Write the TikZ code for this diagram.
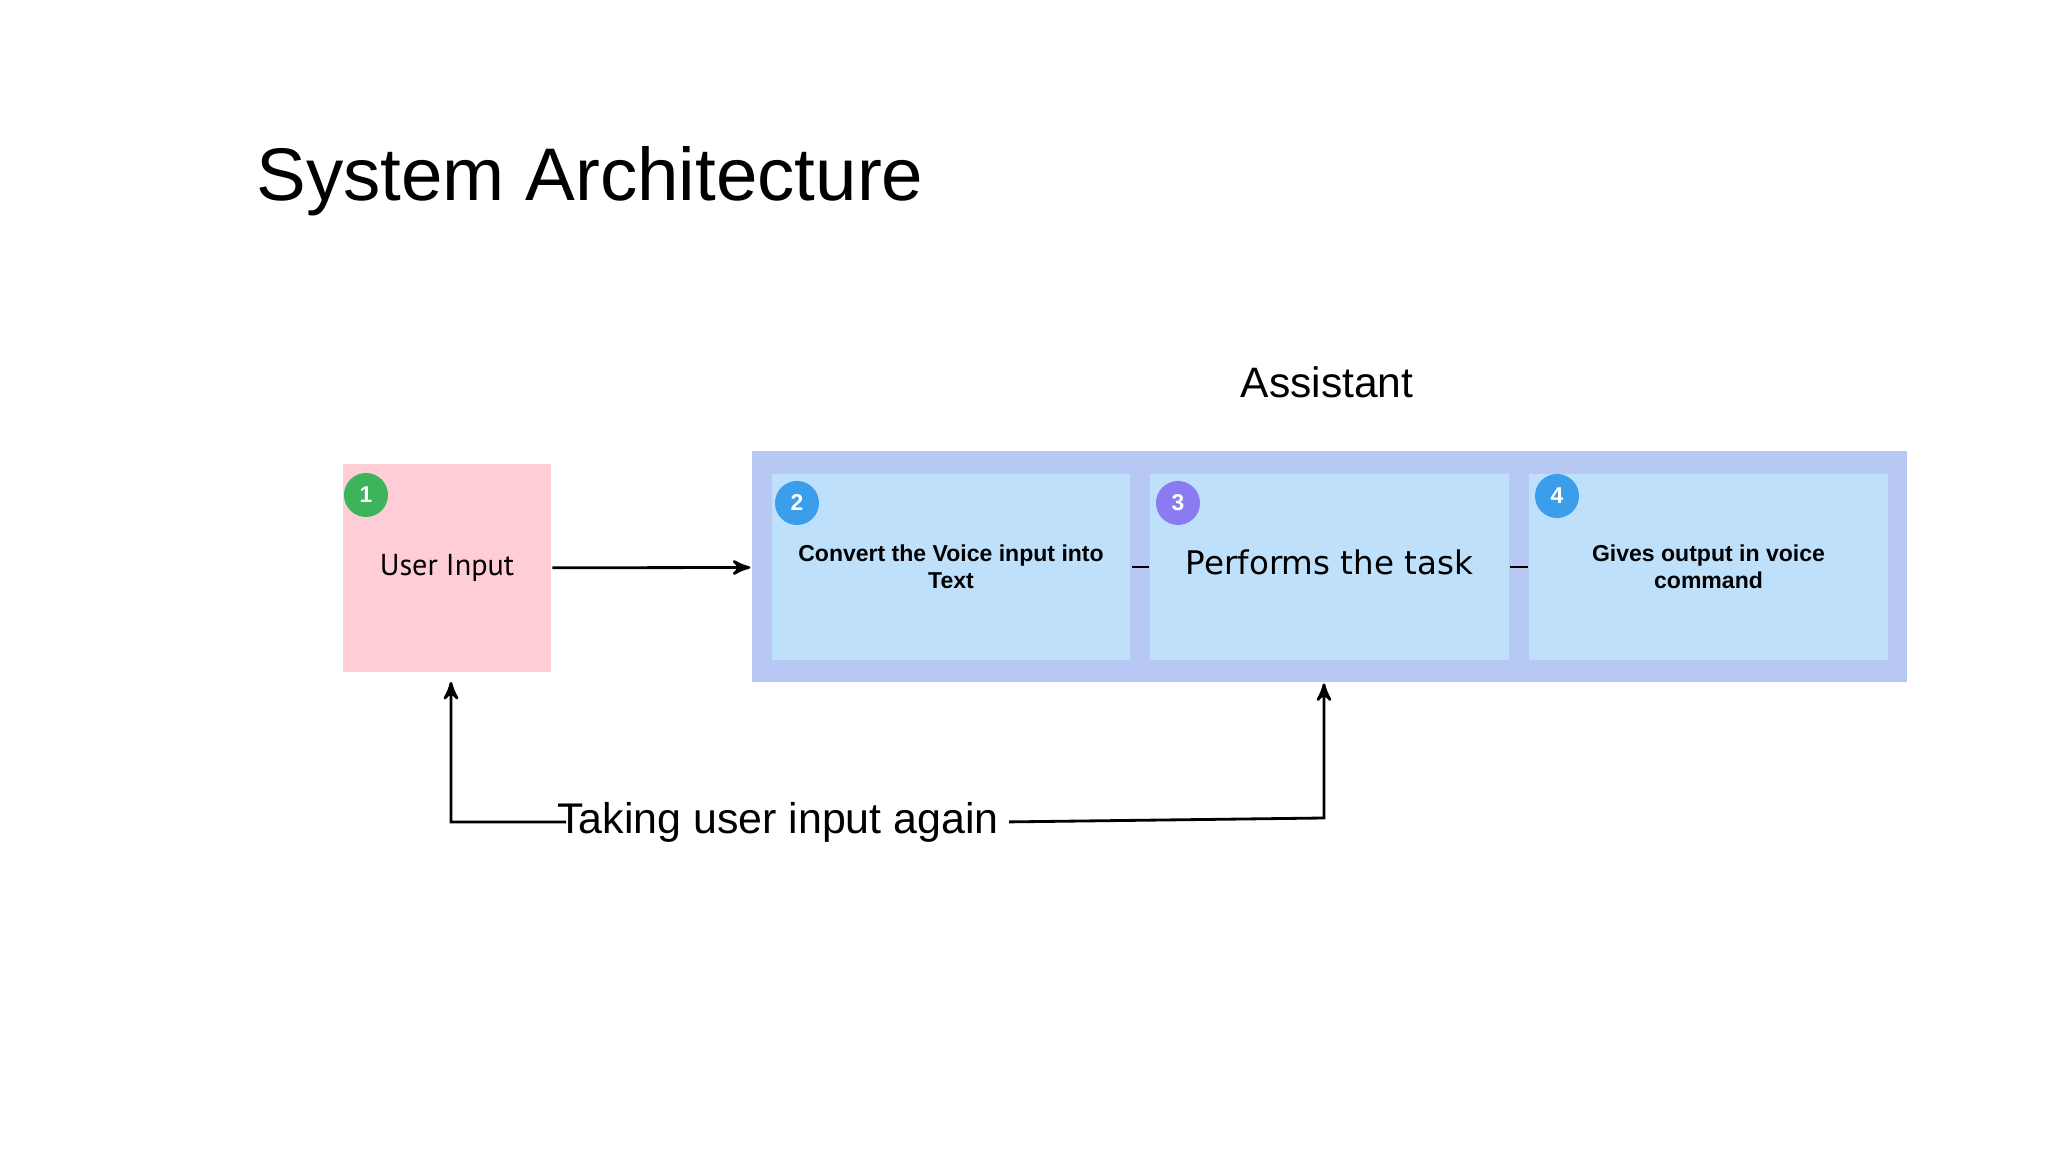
\documentclass[tikz,border=0pt]{standalone}
\usepackage{fontspec}
\setmainfont{Liberation Sans}
\newfontfamily\ptsans{PT Sans}
\newfontfamily\dejavu{DejaVu Sans}
\usetikzlibrary{arrows}

\definecolor{uipink}{HTML}{FFCDD5}
\definecolor{asstblue}{HTML}{B8C8F5}
\definecolor{stepblue}{HTML}{BEE0FB}
\definecolor{badgegreen}{HTML}{3DB45C}
\definecolor{badgeblue}{HTML}{3A9EEA}
\definecolor{badgepurple}{HTML}{8B7BF0}

\begin{document}
\begin{tikzpicture}[x=0.01cm, y=-0.01cm,
    thick,
    >=stealth',
    stepbox/.style = {
      rectangle,
      inner sep = 0pt,
      minimum width = 3.58cm,
      minimum height = 1.86cm,
      fill = stepblue,
      align = center
    },
    badge/.style = {
      circle,
      inner sep = 0pt,
      minimum size = 0.44cm,
      text = white,
      font = \fontsize{6.5}{7}\selectfont\bfseries
    },
    steptext/.style = {font = \fontsize{6.55}{7.7}\selectfont\bfseries}
  ]
  \useasboundingbox (0,0) rectangle (2048,1152);

  \node[anchor=base west, inner sep=0pt,
    font=\fontsize{21.2}{25}\selectfont] (title) at (255,201) {System Architecture};
  \node[anchor=base, inner sep=0pt,
    font=\fontsize{12.1}{14}\selectfont] (asstlabel) at (1327,398) {Assistant};

  % user side
  \node[fill=uipink, inner sep=0pt, minimum width=2.08cm, minimum height=2.07cm,
    font=\ptsans\fontsize{8.6}{10}\selectfont] (ui) at (447,568) {User Input};

  % assistant and its three steps
  \node[fill=asstblue, inner sep=0pt, minimum width=11.55cm,
    minimum height=2.31cm] (asst) at (1329.5,566.5) {};
  \node[stepbox, steptext] (conv) at (951,567) {Convert the Voice input into\\Text};
  \node[stepbox, text depth=0.1cm,
    font=\dejavu\fontsize{9.25}{11}\selectfont] (task) at (1329.5,567) {Performs the task};
  \node[stepbox, steptext] (outp) at (1708.5,567) {Gives output in voice\\command};

  \node[badge, fill=badgegreen] (n1) at (366,495) {1};
  \node[badge, fill=badgeblue] (n2) at (797,503) {2};
  \node[badge, fill=badgepurple] (n3) at (1178,503) {3};
  \node[badge, fill=badgeblue] (n4) at (1557,496) {4};

  \draw[->] (ui) -- (asst);
  \draw (conv) -- (task);
  \draw (task) -- (outp);

  % loop back to the user
  \node[anchor=base west, inner sep=0pt,
    font=\fontsize{12.2}{14}\selectfont] (again) at (556,833) {Taking user input again};
  \coordinate (cl) at (451,822);
  \coordinate (cr) at (1324,818);
  \draw[->, shorten >=0.09cm] ([xshift=0.1cm]again.west) -- (cl) -- (cl |- ui.south);
  \draw[->] ([xshift=0.09cm]again.east) -- (cr) -- (cr |- asst.south);
\end{tikzpicture}
\end{document}
